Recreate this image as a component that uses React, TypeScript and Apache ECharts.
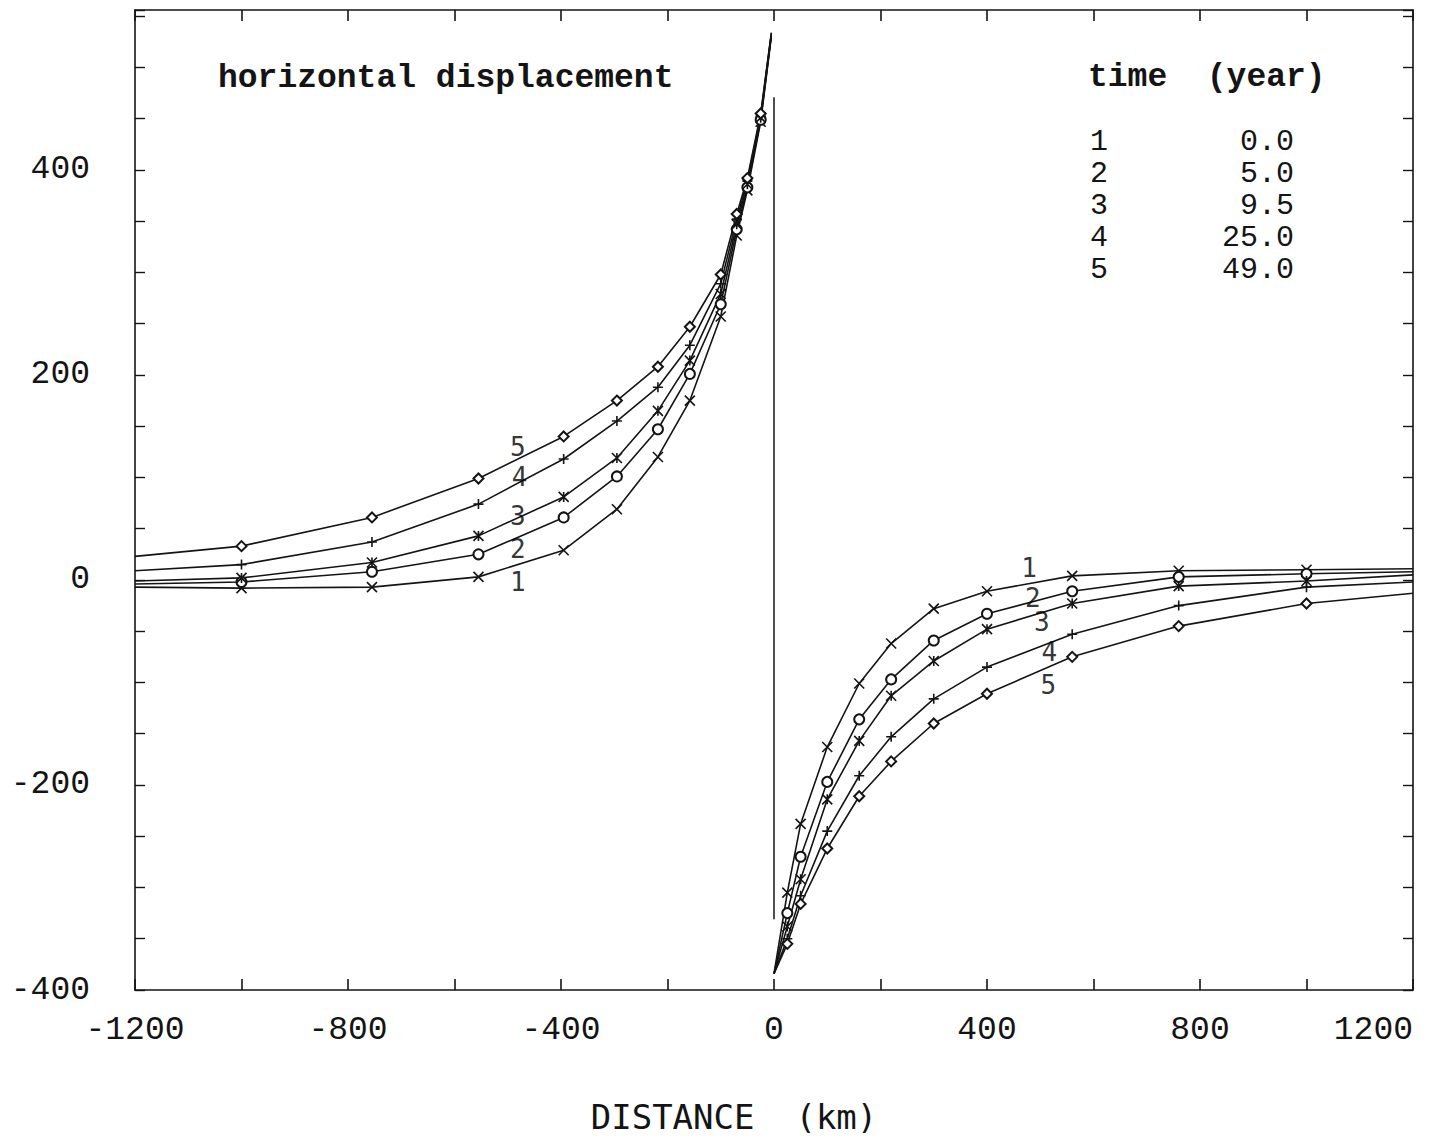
import React, { useEffect, useRef } from "react";
import * as echarts from "echarts";

// ---- data ----
const xLeft = [-1200, -1000, -755, -555, -395, -295, -218, -158, -100, -70, -50, -25, -5];
const left1 = [-7, -8, -7, 3, 29, 69, 120, 175, 257, 336, 380, 447, 530];
const left2 = [-4, -2, 8, 25, 61, 101, 147, 201, 269, 342, 383, 449, 531];
const left3 = [-1, 2, 17, 43, 81, 119, 165, 214, 279, 347, 386, 451, 532];
const left4 = [9, 15, 37, 74, 118, 155, 188, 229, 289, 352, 389, 453, 533];
const left5 = [23, 33, 61, 99, 140, 175, 208, 247, 298, 357, 392, 455, 534];

const xRight = [0, 25, 50, 100, 160, 220, 300, 400, 560, 760, 1000, 1200];
const right1 = [-384, -305, -238, -163, -101, -62, -28, -11, 4, 9, 10, 11];
const right2 = [-384, -325, -270, -197, -136, -97, -59, -33, -11, 3, 6, 8];
const right3 = [-384, -338, -292, -214, -157, -113, -79, -48, -23, -6, -1, 5];
const right4 = [-384, -350, -308, -245, -191, -153, -116, -85, -53, -25, -7, -2];
const right5 = [-384, -355, -316, -262, -211, -177, -140, -111, -75, -45, -23, -13];

const jumpX = [0, 0];
const jumpY = [471, -331];

const curveIds = ["1", "2", "3", "4", "5"];
const timeYears = ["0.0", "5.0", "9.5", "25.0", "49.0"];

const leftLabelX = [-481, -481, -481, -478, -481];
const leftLabelY = [-2, 30, 62, 100, 130];
const rightLabelX = [479, 486, 503, 517, 515];
const rightLabelY = [12, -18, -41, -70, -102];

const xTickLabels = [-1200, -800, -400, 0, 400, 800, 1200];
const yTickLabels = [-400, -200, 0, 200, 400];

const titleText = "horizontal displacement";
const legendTitle = "time  (year)";
const xAxisName = "DISTANCE  (km)";

// ---- styles ----
const INK = "#141414";
const symbols = [
  "path://M0,0L10,10M10,0L0,10",
  "emptyCircle",
  "path://M0,0L10,10M10,0L0,10M5,0L5,10",
  "path://M5,0L5,10M0,5L10,5",
  "emptyDiamond",
];

export default function App() {
  const ref = useRef<HTMLDivElement>(null);

  useEffect(() => {
    if (!ref.current) return;
    const chart = echarts.init(ref.current, null, { renderer: "svg" });

    const lefts = [left1, left2, left3, left4, left5];
    const rights = [right1, right2, right3, right4, right5];

    const mkData = (xs: number[], ys: number[]) =>
      xs.map((x, i) => ({
        value: [x, ys[i]],
        symbol: i === 0 || i === xs.length - 1 ? "none" : undefined,
      }));

    const curveSeries: any[] = [];
    curveIds.forEach((id, k) => {
      [mkData(xLeft, lefts[k]), mkData(xRight, rights[k])].forEach((data) => {
        curveSeries.push({
          type: "line",
          name: "curve " + id,
          data,
          symbol: symbols[k],
          symbolSize: 10,
          showSymbol: true,
          smooth: false,
          lineStyle: { color: INK, width: 1.6 },
          itemStyle: { color: INK, borderColor: INK, borderWidth: 1.6 },
          z: 3,
        });
      });
    });

    const labelStyle = {
      show: true,
      position: "inside",
      formatter: (p: any) => p.name,
      fontFamily: "DejaVu Sans Mono",
      fontSize: 26,
      color: "#000",
    };

    const axisLineStyle = { show: true, onZero: false, lineStyle: { color: INK, width: 1.6 } };

    const option: any = {
      animation: false,
      backgroundColor: "#ffffff",
      grid: { left: 135, right: 28, top: 10, bottom: 155, containLabel: false },
      xAxis: [
        {
          type: "value",
          min: -1200,
          max: 1200,
          interval: 200,
          position: "bottom",
          name: xAxisName,
          nameLocation: "middle",
          nameGap: 110,
          nameTextStyle: {
            fontFamily: "DejaVu Sans Mono",
            fontSize: 34,
            color: INK,
            padding: [0, 80, 0, 0],
          },
          axisLine: axisLineStyle,
          axisTick: { show: true, inside: true, length: 11, lineStyle: { color: INK, width: 1.6 } },
          axisLabel: {
            margin: 24,
            fontFamily: "Liberation Mono",
            fontSize: 33,
            color: INK,
            alignMaxLabel: "right",
            formatter: (v: number) => (xTickLabels.includes(v) ? String(v) : ""),
          },
          splitLine: { show: false },
        },
        {
          type: "value",
          min: -1200,
          max: 1200,
          interval: 200,
          position: "top",
          axisLine: axisLineStyle,
          axisTick: { show: true, inside: true, length: 11, lineStyle: { color: INK, width: 1.6 } },
          axisLabel: { show: false },
          splitLine: { show: false },
        },
      ],
      yAxis: [
        {
          type: "value",
          min: -400,
          max: 556,
          interval: 50,
          position: "left",
          axisLine: axisLineStyle,
          axisTick: { show: true, inside: true, length: 10, lineStyle: { color: INK, width: 1.4 } },
          axisLabel: {
            margin: 45,
            fontFamily: "Liberation Mono",
            fontSize: 33,
            color: INK,
            padding: [0, 0, 12, 0],
            formatter: (v: number) => (yTickLabels.includes(v) ? String(v) : ""),
          },
          splitLine: { show: false },
        },
        {
          type: "value",
          min: -400,
          max: 556,
          interval: 50,
          position: "right",
          axisLine: axisLineStyle,
          axisTick: { show: true, inside: true, length: 10, lineStyle: { color: INK, width: 1.4 } },
          axisLabel: { show: false },
          splitLine: { show: false },
        },
      ],
      series: [
        ...curveSeries,
        {
          type: "line",
          name: "fault",
          data: jumpX.map((x, i) => [x, jumpY[i]]),
          symbol: "none",
          lineStyle: { color: INK, width: 1.5 },
          z: 2,
        },
        {
          type: "scatter",
          name: "labels left",
          data: curveIds.map((id, i) => ({ name: id, value: [leftLabelX[i], leftLabelY[i]] })),
          symbolSize: 0,
          label: labelStyle,
          z: 4,
        },
        {
          type: "scatter",
          name: "labels right",
          data: curveIds.map((id, i) => ({ name: id, value: [rightLabelX[i], rightLabelY[i]] })),
          symbolSize: 0,
          label: labelStyle,
          z: 4,
        },
      ],
      graphic: [
        {
          type: "text",
          x: 218,
          y: 78,
          style: {
            text: titleText,
            font: 'bold 33px "Liberation Mono"',
            fill: INK,
            align: "left",
            verticalAlign: "middle",
          },
        },
        {
          type: "text",
          x: 1088,
          y: 77,
          style: {
            text: legendTitle,
            font: 'bold 33px "Liberation Mono"',
            fill: INK,
            align: "left",
            verticalAlign: "middle",
          },
        },
        ...curveIds.map((id, i) => ({
          type: "text",
          x: 1090,
          y: 142 + i * 32,
          style: {
            text: id,
            font: '30px "Liberation Mono"',
            fill: INK,
            align: "left",
            verticalAlign: "middle",
          },
        })),
        ...timeYears.map((t, i) => ({
          type: "text",
          x: 1294,
          y: 142 + i * 32,
          style: {
            text: t,
            font: '30px "Liberation Mono"',
            fill: INK,
            align: "right",
            verticalAlign: "middle",
          },
        })),
      ],
    };

    chart.setOption(option);
    return () => chart.dispose();
  }, []);

  return (
    <div
      ref={ref}
      style={{ position: "fixed", left: 0, top: 0, width: 1441, height: 1145, background: "#fff" }}
    />
  );
}
